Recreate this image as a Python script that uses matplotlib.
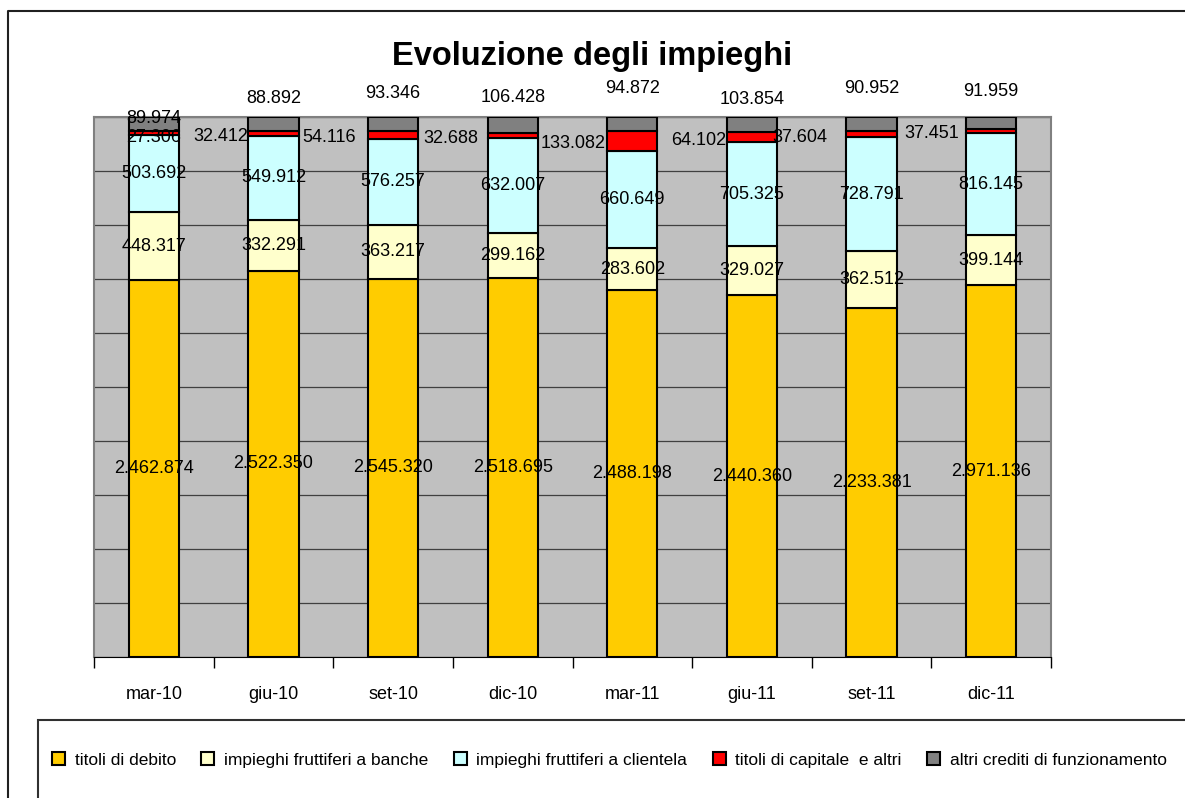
import matplotlib
matplotlib.use("Agg")
from matplotlib import pyplot as plt
from matplotlib.patches import Rectangle
from matplotlib.lines import Line2D
import numpy as np

plt.rcParams['font.family'] = ['Liberation Sans', 'DejaVu Sans']

# dati (migliaia di euro)
periodi = ['mar-10', 'giu-10', 'set-10', 'dic-10', 'mar-11', 'giu-11', 'set-11', 'dic-11']
titoli_debito = [2462874, 2522350, 2545320, 2518695, 2488198, 2440360, 2233381, 2971136]
impieghi_banche = [448317, 332291, 363217, 299162, 283602, 329027, 362512, 399144]
impieghi_clientela = [503692, 549912, 576257, 632007, 660649, 705325, 728791, 816145]
titoli_capitale = [27306, 32412, 54116, 32688, 133082, 64102, 37604, 37451]
altri_crediti = [89974, 88892, 93346, 106428, 94872, 103854, 90952, 91959]

nomi = ['titoli di debito', 'impieghi fruttiferi a banche', 'impieghi fruttiferi a clientela',
        'titoli di capitale  e altri', 'altri crediti di funzionamento']
colori = ['#FFCC00', '#FFFFCC', '#CCFFFF', '#FF0000', '#808080']

# spostamenti etichette (pixel)
off_grigio = [-1, 19, 24, 20, 29, 18, 29, 26]
gap_rosso = [0, 0, 12, 9, 2, 1, 19, 7]

FS = 13


def fmt(v):
    return f"{v:,}".replace(",", ".")


serie = [titoli_debito, impieghi_banche, impieghi_clientela, titoli_capitale, altri_crediti]
tot = np.sum(np.array(serie), axis=0)
perc = [np.array(s) / tot * 100 for s in serie]

fig = plt.figure(figsize=(11.85, 7.98), dpi=100)
ax = fig.add_axes([94 / 1185, 1 - 657 / 798, (1051 - 94) / 1185, (657 - 117) / 798])
ax.set_facecolor('#C0C0C0')

x = np.arange(len(periodi))
w = 0.42
bottom = np.zeros(len(periodi))
barre = []
for p, nome, c in zip(perc, nomi, colori):
    b = ax.bar(x, p, w, bottom=bottom, color=c, edgecolor='black', linewidth=1.5,
               label=nome, zorder=3)
    barre.append(b)
    bottom = bottom + p

ax.set_xlim(-0.5, len(periodi) - 0.5)
ax.set_ylim(0, 100)
ax.set_yticks(np.arange(0, 101, 10))
ax.tick_params(axis='y', left=False, labelleft=False)
ax.grid(axis='y', color='#404040', linewidth=0.9, zorder=0)

ax.set_xticks(x)
ax.set_xticklabels(periodi, fontsize=FS)
ax.tick_params(axis='x', length=0, pad=30)
for lbl in ax.get_xticklabels():
    lbl.set_va('baseline')
ax.set_xticks(np.arange(-0.5, len(periodi), 1), minor=True)
ax.tick_params(axis='x', which='minor', length=8, width=1, color='black', direction='out')

for s in ['top', 'right', 'left']:
    ax.spines[s].set_color('#808080')
    ax.spines[s].set_linewidth(1.5)
ax.spines['bottom'].set_color('black')

# etichette delle prime tre serie, al centro del segmento
base = np.zeros(len(periodi))
for k in range(3):
    for i in range(len(periodi)):
        ax.text(x[i], base[i] + perc[k][i] / 2, fmt(serie[k][i]), ha='center', va='center',
                fontsize=FS, zorder=5)
    base = base + perc[k]

# titoli di capitale: a sinistra della barra
for i in range(len(periodi)):
    yc = base[i] + perc[3][i] / 2
    if i == 0:
        ax.annotate(fmt(serie[3][i]), (x[i], yc), xytext=(0, -5), textcoords='offset pixels',
                    ha='center', va='center', fontsize=FS, zorder=5)
    else:
        ax.annotate(fmt(serie[3][i]), (x[i] - w / 2, yc), xytext=(-gap_rosso[i], -3),
                    textcoords='offset pixels', ha='right', va='center', fontsize=FS,
                    zorder=5, annotation_clip=False)

# altri crediti: sopra la barra
for i in range(len(periodi)):
    ax.annotate(fmt(serie[4][i]), (x[i], 100), xytext=(0, off_grigio[i]),
                textcoords='offset pixels', ha='center', va='center', fontsize=FS,
                zorder=5, annotation_clip=False)

fig.text(0.5, 1 - 57 / 798, 'Evoluzione degli impieghi', ha='center', va='center',
         fontsize=23.5, fontweight='bold')

# cornice esterna
fig.add_artist(Line2D([8 / 1185, 8 / 1185, 1.0], [0.0, 1 - 11 / 798, 1 - 11 / 798],
                      transform=fig.transFigure, color='#202020', linewidth=1.5))
# riquadro legenda
fig.add_artist(Rectangle((38 / 1185, -0.05), 1.1, 1 - 720 / 798 + 0.05,
                         transform=fig.transFigure, fill=False, edgecolor='#303030',
                         linewidth=1.5))
fig.legend(handles=barre, loc='center left', bbox_to_anchor=(52 / 1185, 1 - 760 / 798),
           ncol=5, frameon=False, fontsize=12.5, handlelength=0.75, handleheight=0.75,
           handletextpad=0.55, columnspacing=1.47, borderaxespad=0, borderpad=0)

fig.savefig('out.png', dpi=100)
